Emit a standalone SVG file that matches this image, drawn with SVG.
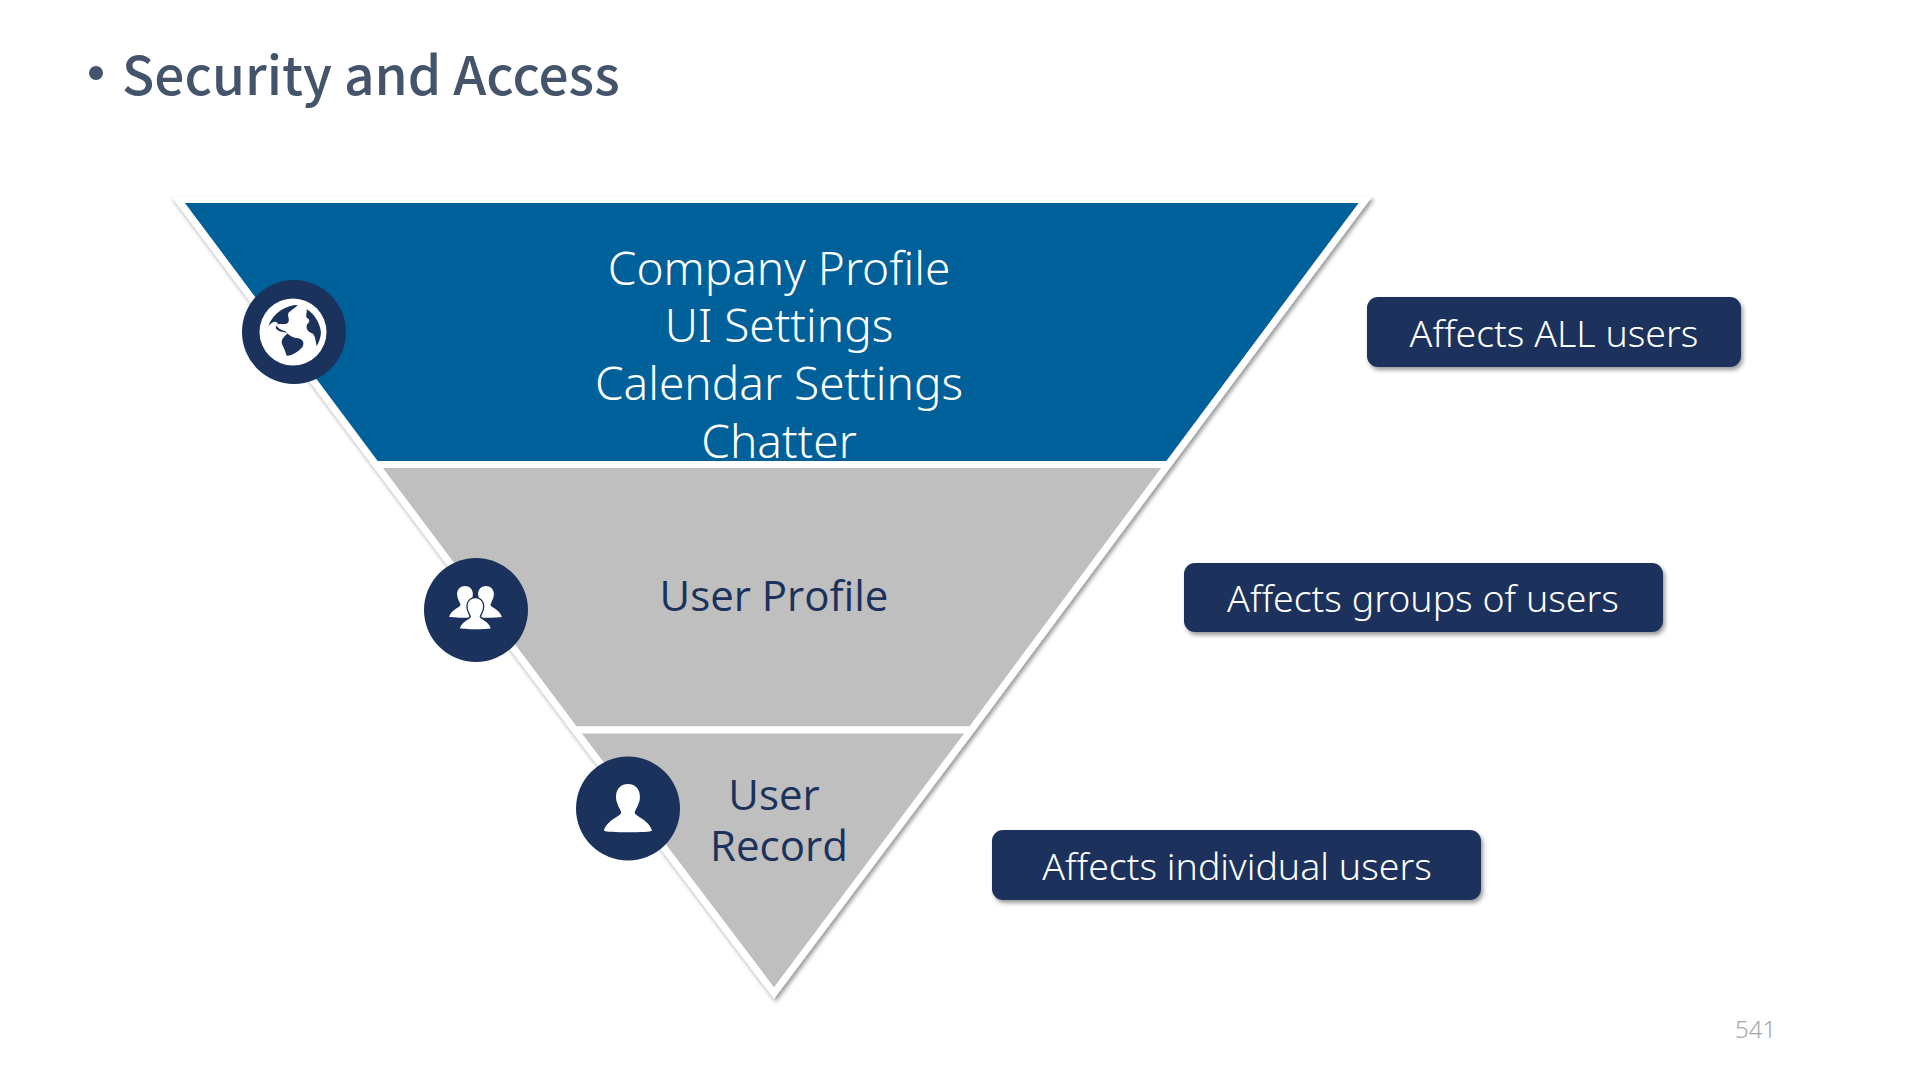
<svg xmlns="http://www.w3.org/2000/svg" width="1920" height="1080" viewBox="0 0 1920 1080">
<style>
text{font-family:"Noto Sans","Open Sans","Liberation Sans",sans-serif}
.band{stroke:#fff;stroke-width:7;stroke-linejoin:miter;stroke-miterlimit:10}
.pill{fill:#1a325c}
.dot{fill:#1a325c}
.lt{fill:#fff;font-size:37.500px;font-weight:300;text-anchor:middle}
.big{fill:#fff;font-size:46px;font-weight:300;text-anchor:middle}
.dk{fill:#1a325c;font-size:42px;text-anchor:middle;font-family:"Open Sans","Noto Sans",sans-serif}
</style>
<defs>
<filter id="sh" x="-5%" y="-5%" width="110%" height="115%"><feDropShadow dx="2" dy="3" stdDeviation="2" flood-color="#000" flood-opacity=".4"/></filter>
<path id="person" d="M0 0C-24 0-36 18-36 38C-36 58-24 73-20 86C-24 98-64 108-72 140C-64 146 66 146 72 140C64 108 24 98 20 86C24 73 36 58 36 38C36 18 24 0 0 0Z"/>
</defs>
<rect width="1920" height="1080" fill="#fff"/>
<g id="title">
<circle cx="96" cy="73" r="7" fill="#44546a"/>
<text x="122" y="95" font-size="53.200" font-weight="500" fill="#44546a" style="font-family:'Noto Sans CJK SC','Noto Sans',sans-serif">Security and Access</text>
</g>
<g id="pyramid" filter="url(#sh)">
<polygon id="band-top" class="band" fill="#03609a" points="178,199.500 1365.500,199.500 1168,464.500 376,464.500"/>
<polygon id="band-mid" class="band" fill="#bfbfbf" points="376,464.500 1168,464.500 971,730 575,730"/>
<polygon id="band-low" class="band" fill="#bfbfbf" points="575,730 971,730 774,993"/>
</g>
<g id="labels-pyramid">
<text class="big" x="779" y="285">Company Profile</text>
<text class="big" x="779" y="342">UI Settings</text>
<text class="big" x="779" y="400">Calendar Settings</text>
<text class="big" x="779" y="458">Chatter</text>
<text class="dk" x="774" y="611">User Profile</text>
<text class="dk" x="774" y="810">User</text>
<text class="dk" x="779" y="861">Record</text>
</g>
<g id="icon-globe">
<circle class="dot" cx="294" cy="332" r="52"/>
<circle cx="293" cy="332" r="33.500" fill="#fff"/>
<g transform="translate(160 190) scale(.3333)" fill="#1a325c">
<path d="M413 345C378 345 340 368 325 408C335 398 344 392 352 398C358 402 342 410 350 418C360 428 372 424 382 430C374 440 362 448 366 462C372 474 376 484 380 497C395 498 415 485 428 470C434 458 428 448 415 445C400 445 385 435 376 424C364 420 352 415 350 406C356 396 372 408 384 398C392 388 378 374 388 366C398 358 408 352 413 345Z"/>
<path d="M440 358C462 370 480 398 483 428C482 445 476 458 470 468C466 450 466 436 456 430C442 425 436 412 442 402C450 396 450 386 440 384C436 375 442 367 440 358Z"/>
</g>
</g>
<g id="icon-group">
<circle class="dot" cx="476" cy="610" r="52"/>
<g transform="translate(400 530) scale(.3333)" fill="#fff">
<use href="#person" transform="translate(195 168) scale(.66)"/>
<use href="#person" transform="translate(258 168) scale(.66)"/>
<use href="#person" transform="translate(226 205) scale(.64)" stroke="#1a325c" stroke-width="13" paint-order="stroke"/>
</g>
</g>
<g id="icon-person">
<circle class="dot" cx="628" cy="808.500" r="52"/>
<g transform="translate(400 530) scale(.3333)" fill="#fff"><use href="#person" transform="translate(684 762)"/></g>
</g>
<g id="note-all">
<rect class="pill" x="1367" y="297" width="374" height="70" rx="11" filter="url(#sh)"/>
<text class="lt" x="1554" y="347">Affects ALL users</text>
</g>
<g id="note-groups">
<rect class="pill" x="1184" y="563" width="479" height="69" rx="11" filter="url(#sh)"/>
<text class="lt" x="1423" y="612">Affects groups of users</text>
</g>
<g id="note-individual">
<rect class="pill" x="992" y="830" width="489" height="70" rx="11" filter="url(#sh)"/>
<text class="lt" x="1237" y="880">Affects individual users</text>
</g>
<text id="page-number" x="1735" y="1038" font-size="24" fill="#a6a6a6" style="font-weight:300">541</text>
</svg>
